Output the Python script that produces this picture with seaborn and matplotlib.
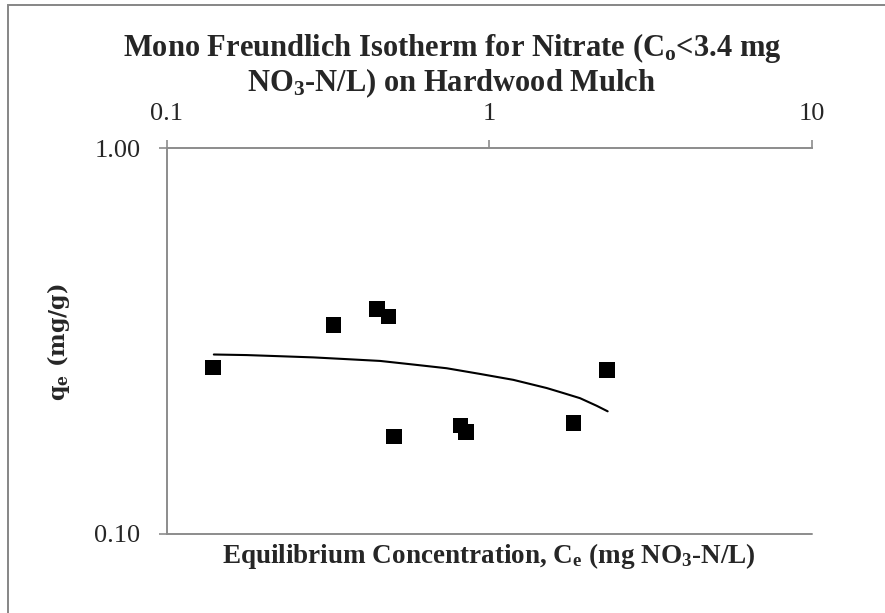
import matplotlib
matplotlib.use("Agg")
import matplotlib.pyplot as plt
import matplotlib.patches as mpatches
import numpy as np
import pandas as pd
import seaborn as sns

# measured points (Ce in mg NO3-N/L, qe in mg/g)
ce_points = [0.139, 0.329, 0.448, 0.488, 0.507, 0.816, 0.846, 1.823, 2.323]
qe_points = [0.270, 0.348, 0.383, 0.366, 0.179, 0.191, 0.184, 0.194, 0.266]

# fitted isotherm curve
ce_fit = [0.140, 0.177, 0.225, 0.285, 0.362, 0.459, 0.582, 0.738,
          0.937, 1.188, 1.508, 1.697, 1.912, 2.154, 2.330]
qe_fit = [0.292, 0.291, 0.289, 0.287, 0.284, 0.281, 0.275, 0.269,
          0.260, 0.251, 0.239, 0.232, 0.225, 0.215, 0.208]

x_ticks = [0.1, 1, 10]
x_tick_labels = ["0.1", "1", "10"]
y_ticks = [0.1, 1.0]
y_tick_labels = ["0.10", "1.00"]

W, H = 885, 613

sns.set_theme(style="white")
plt.rcParams["font.family"] = ["Liberation Serif", "DejaVu Serif"]
plt.rcParams["mathtext.default"] = "regular"

points = pd.DataFrame({"ce": ce_points, "qe": qe_points})
fit = pd.DataFrame({"ce": ce_fit, "qe": qe_fit})

fig = plt.figure(figsize=(W / 100, H / 100), dpi=100)
ax = fig.add_axes([166.7 / W, 1 - 534 / H, 645 / W, (534 - 148.3) / H])

sns.lineplot(data=fit, x="ce", y="qe", ax=ax, color="black", lw=1.5, sort=False)
sns.scatterplot(data=points, x="ce", y="qe", ax=ax, marker="s", s=125,
                color="black", edgecolor="none", zorder=3)

ax.set_xscale("log")
ax.set_yscale("log")
ax.set_xlim(0.1, 10)
ax.set_ylim(0.1, 1.0)
ax.minorticks_off()
ax.set_xticks(x_ticks)
ax.set_xticklabels(x_tick_labels)
ax.set_yticks(y_ticks)
ax.set_yticklabels(y_tick_labels)
ax.xaxis.set_ticks_position("top")
ax.tick_params(axis="x", direction="out", length=6, width=1.2, color="#8c8c8c",
               labelsize=19, pad=11, top=True, bottom=False)
ax.tick_params(axis="y", direction="out", length=6, width=1.2, color="#8c8c8c",
               labelsize=19, pad=13, left=True)
ax.set_xlabel("")
ax.set_ylabel("")

for side in ["right", "bottom"]:
    ax.spines[side].set_visible(False)
for side in ["top", "left"]:
    ax.spines[side].set_color("#8c8c8c")
    ax.spines[side].set_linewidth(1.4)
# gridline at 0.10
ax.axhline(0.1, color="#8c8c8c", lw=1.4, clip_on=False)

fig.text(489 / W, 1 - 556 / H, r"Equilibrium Concentration, C$_{e}$ (mg NO$_{3}$-N/L)",
         ha="center", va="center", fontsize=19.5, fontweight="bold")
fig.text(58 / W, 1 - 342 / H, r"q$_{e}$ (mg/g)", rotation=90, ha="center", va="center",
         fontsize=16, fontweight="bold", family=["DejaVu Serif"])

fig.text(452 / W, 1 - 56 / H, r"Mono Freundlich Isotherm for Nitrate (C$_{o}$<3.4 mg",
         ha="center", va="baseline", fontsize=22, fontweight="bold")
fig.text(452 / W, 1 - 91 / H, r"NO$_{3}$-N/L) on Hardwood Mulch",
         ha="center", va="baseline", fontsize=22, fontweight="bold")

# chart border
fig.patches.append(mpatches.Rectangle((8 / W, -0.1), 1.2, 1 - 5 / H + 0.1,
                                      transform=fig.transFigure, fill=False,
                                      edgecolor="#868686", lw=1.4))

fig.savefig("out.png", dpi=100)
